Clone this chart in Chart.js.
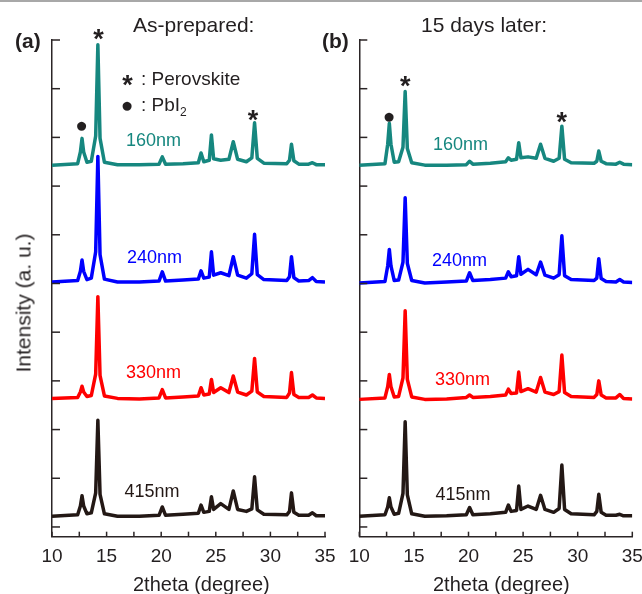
<!DOCTYPE html>
<html>
<head>
<meta charset="utf-8">
<script src="https://cdn.jsdelivr.net/npm/chart.js@4.4.0/dist/chart.umd.min.js"></script>
<style>
html,body{margin:0;padding:0;background:#fff;}
#wrap{position:relative;width:642px;height:594px;overflow:hidden;font-family:"Liberation Sans",Arial,sans-serif;color:#231f20;}
#topline{position:absolute;left:0;top:0;width:642px;height:2px;background:#a8a8a8;}
canvas{position:absolute;top:0;}
#cA{left:0;width:345px;height:594px;}
#cB{left:320px;width:322px;height:594px;}
.t{position:absolute;line-height:1;white-space:nowrap;}
.ast{position:absolute;line-height:1;width:20px;text-align:center;font-weight:bold;font-size:27px;}
.dot{position:absolute;line-height:1;width:30px;text-align:center;font-size:21px;}
sub{font-size:12px;vertical-align:-5px;line-height:0;}
</style>
</head>
<body>
<div id="wrap">
<div id="topline"></div>
<canvas id="cA" width="345" height="594"></canvas>
<canvas id="cB" width="322" height="594"></canvas>

<div class="t" style="left:15px;top:29.8px;font-size:21px;font-weight:bold;">(a)</div>
<div class="t" style="left:322px;top:29.8px;font-size:21px;font-weight:bold;">(b)</div>
<div class="t" style="left:133px;top:14.2px;font-size:21px;">As-prepared:</div>
<div class="t" style="left:421px;top:14.2px;font-size:21px;">15 days later:</div>

<div class="t" style="left:141px;top:68.5px;font-size:19px;">: Perovskite</div>
<div class="t" style="left:141px;top:94.5px;font-size:19px;">: PbI<sub>2</sub></div>

<div id="labels"></div>

<div class="t" style="left:23px;top:303px;font-size:21px;transform:translate(-50%,-50%) rotate(-90deg);">Intensity (a. u.)</div>
<div class="t" style="left:133px;top:574.4px;font-size:20px;">2theta (degree)</div>
<div class="t" style="left:433px;top:574.4px;font-size:20px;">2theta (degree)</div>
</div>

<script>
// 2theta grid (degree) read at feet, shoulders and tops of the peaks
const TWO_THETA = [10, 12.35, 12.6, 12.75, 12.9, 13.2, 13.6, 14.0, 14.2, 14.4, 14.8, 16, 18, 19.8, 20.1, 20.4, 22, 23.4, 23.65, 23.9, 24.4, 24.6, 24.8, 25.45, 26.2, 26.6, 27.0, 27.8, 28.3, 28.55, 28.8, 29.4, 31.5, 31.75, 31.93, 32.15, 32.6, 33.5, 33.85, 34.2, 35];

// (a) as-prepared, intensity above each trace's baseline
const A_160 = [0, 0.03, 0.27, 0.55, 0.27, 0.06, 0.08, 0.6, 2.47, 0.55, 0.06, 0.01, 0.01, 0.02, 0.17, 0.02, 0.03, 0.05, 0.25, 0.07, 0.1, 0.62, 0.13, 0.1, 0.12, 0.48, 0.12, 0.07, 0.15, 0.87, 0.14, 0.04, 0.03, 0.1, 0.43, 0.09, 0.02, 0.02, 0.05, 0.01, 0.01];
const A_240 = [0, 0.03, 0.22, 0.45, 0.22, 0.05, 0.08, 0.62, 2.58, 0.56, 0.06, 0, 0, 0.02, 0.21, 0.02, 0.04, 0.06, 0.23, 0.08, 0.1, 0.62, 0.14, 0.19, 0.13, 0.52, 0.14, 0.08, 0.17, 0.98, 0.15, 0.05, 0.03, 0.11, 0.52, 0.09, 0.02, 0.03, 0.09, 0.01, 0];
const A_330 = [0, 0.02, 0.13, 0.25, 0.13, 0.04, 0.06, 0.5, 2.09, 0.47, 0.05, 0, -0.01, 0.01, 0.18, 0.01, 0.03, 0.05, 0.22, 0.07, 0.09, 0.39, 0.12, 0.22, 0.12, 0.46, 0.13, 0.07, 0.15, 0.82, 0.13, 0.04, 0.02, 0.11, 0.53, 0.08, 0.02, 0.02, 0.07, 0.01, 0];
const A_415 = [0, 0.03, 0.21, 0.42, 0.21, 0.05, 0.07, 0.48, 1.97, 0.45, 0.05, 0, 0, 0.02, 0.19, 0.02, 0.04, 0.06, 0.23, 0.08, 0.1, 0.4, 0.14, 0.26, 0.14, 0.52, 0.14, 0.1, 0.15, 0.81, 0.13, 0.04, 0.03, 0.1, 0.48, 0.08, 0.02, 0.02, 0.07, 0.01, 0.01];
// (b) 15 days later
const B_160 = [0, 0.03, 0.43, 0.86, 0.43, 0.06, 0.07, 0.37, 1.51, 0.34, 0.05, 0, 0, 0.01, 0.08, 0.02, 0.04, 0.07, 0.15, 0.1, 0.12, 0.46, 0.15, 0.17, 0.14, 0.43, 0.14, 0.08, 0.14, 0.8, 0.12, 0.05, 0.04, 0.08, 0.29, 0.08, 0.03, 0.02, 0.06, 0.02, 0.01];
const B_240 = [0, 0.03, 0.35, 0.69, 0.35, 0.05, 0.06, 0.43, 1.75, 0.4, 0.05, 0, 0.02, 0.04, 0.21, 0.05, 0.07, 0.1, 0.23, 0.13, 0.15, 0.54, 0.18, 0.28, 0.17, 0.43, 0.16, 0.1, 0.17, 0.97, 0.15, 0.07, 0.05, 0.1, 0.5, 0.09, 0.03, 0.02, 0.07, 0.02, 0.01];
const B_330 = [0, 0.03, 0.26, 0.51, 0.26, 0.05, 0.06, 0.44, 1.82, 0.41, 0.05, 0, 0.01, 0.04, 0.09, 0.04, 0.06, 0.09, 0.21, 0.12, 0.13, 0.56, 0.16, 0.22, 0.15, 0.45, 0.15, 0.1, 0.16, 0.91, 0.14, 0.06, 0.04, 0.1, 0.38, 0.09, 0.03, 0.03, 0.1, 0.02, 0.01];
const B_415 = [0, 0.03, 0.19, 0.38, 0.19, 0.04, 0.06, 0.47, 1.94, 0.44, 0.05, 0, 0.01, 0.03, 0.18, 0.03, 0.05, 0.08, 0.23, 0.1, 0.12, 0.62, 0.14, 0.21, 0.14, 0.43, 0.14, 0.08, 0.16, 1.05, 0.14, 0.05, 0.03, 0.1, 0.45, 0.08, 0.02, 0.02, 0.04, 0.01, 0.01];

const SAMPLES = ['160nm', '240nm', '330nm', '415nm'];
const OFFSETS_A = [7.43, 5.03, 2.64, 0.22];
const OFFSETS_B = [7.43, 5.01, 2.62, 0.22];
const COLORS = ['#16877f', '#0000ff', '#ff0000', '#231815'];
const X_TICKS = [10, 12.5, 15, 17.5, 20, 22.5, 25, 27.5, 30, 32.5, 35];
const X_LABELS = [10, 15, 20, 25, 30, 35];
const Y_TICKS = [0, 1, 2, 3, 4, 5, 6, 7, 8, 9, 10];

const AXIS = '#2b2526';
const FONT = '"Liberation Sans", Arial, sans-serif';

// inward ticks + x tick labels
const InTicks = {
  id: 'inTicks',
  afterDraw(chart) {
    const {ctx, chartArea: {left, bottom}, scales: {x, y}} = chart;
    ctx.save();
    ctx.strokeStyle = AXIS;
    ctx.lineWidth = 1.5;
    Y_TICKS.forEach(v => {
      const py = y.getPixelForValue(v);
      ctx.beginPath(); ctx.moveTo(left, py); ctx.lineTo(left + 8, py); ctx.stroke();
    });
    X_TICKS.forEach(v => {
      const px = x.getPixelForValue(v);
      ctx.beginPath(); ctx.moveTo(px, bottom); ctx.lineTo(px, bottom - 5); ctx.stroke();
    });
    ctx.fillStyle = '#231f20';
    ctx.font = '19px ' + FONT;
    ctx.textAlign = 'center';
    ctx.textBaseline = 'alphabetic';
    X_LABELS.forEach(v => ctx.fillText(String(v), x.getPixelForValue(v), bottom + 25.5));
    ctx.restore();
  }
};

function makePanel(id, series, offsets, pad) {
  const datasets = series.map((arr, i) => ({
    label: SAMPLES[i],
    data: TWO_THETA.map((t, k) => ({x: t, y: arr[k] + offsets[i]})),
    borderColor: COLORS[i],
    borderWidth: 3.5,
    borderJoinStyle: 'round',
    pointRadius: 0,
    tension: 0
  }));
  return new Chart(document.getElementById(id).getContext('2d'), {
    type: 'line',
    data: {datasets},
    options: {
      responsive: false, animation: false, events: [],
      layout: {padding: pad},
      plugins: {legend: {display: false}, tooltip: {enabled: false}},
      scales: {
        x: {type: 'linear', min: 10, max: 35,
            grid: {display: false, drawTicks: false}, ticks: {display: false},
            border: {display: true, color: AXIS, width: 1.5}},
        y: {type: 'linear', min: -0.2, max: 10,
            grid: {display: false, drawTicks: false}, ticks: {display: false},
            border: {display: true, color: AXIS, width: 1.5}}
      }
    },
    plugins: [InTicks]
  });
}

makePanel('cA', [A_160, A_240, A_330, A_415], OFFSETS_A, {left: 52, top: 40, right: 20, bottom: 57.3});
makePanel('cB', [B_160, B_240, B_330, B_415], OFFSETS_B, {left: 39.3, top: 40, right: 9.7, bottom: 57.3});

// sample labels and peak markers
const LABEL_POS = [[126, 130.6, 433, 134.6], [127, 247.6, 432, 250.6], [126, 362.6, 435, 369.6], [124.5, 481.6, 435.5, 484.6]];
const ASTERISKS = [[98.5, 33], [253, 114], [405.3, 80.7], [561.7, 116.7], [127.5, 79]];
const DOTS = [[81.7, 124], [389, 115], [127, 104]];

const host = document.getElementById('labels');
SAMPLES.forEach((s, i) => {
  const [ax, ay, bx, by] = LABEL_POS[i];
  [[ax, ay], [bx, by]].forEach(([lx, ly]) => {
    const d = document.createElement('div');
    d.className = 't';
    d.style.cssText = `left:${lx}px;top:${ly}px;font-size:18px;color:${COLORS[i]};`;
    d.textContent = s;
    host.appendChild(d);
  });
});
ASTERISKS.forEach(([cx, cy]) => {
  const d = document.createElement('div');
  d.className = 'ast';
  d.style.left = (cx - 10) + 'px';
  d.style.top = (cy - 0.276 * 27) + 'px';
  d.textContent = '*';
  host.appendChild(d);
});
DOTS.forEach(([cx, cy]) => {
  const d = document.createElement('div');
  d.className = 'dot';
  d.style.left = (cx - 15) + 'px';
  d.style.top = (cy - 10.5) + 'px';
  d.textContent = '●';
  host.appendChild(d);
});
</script>
</body>
</html>
